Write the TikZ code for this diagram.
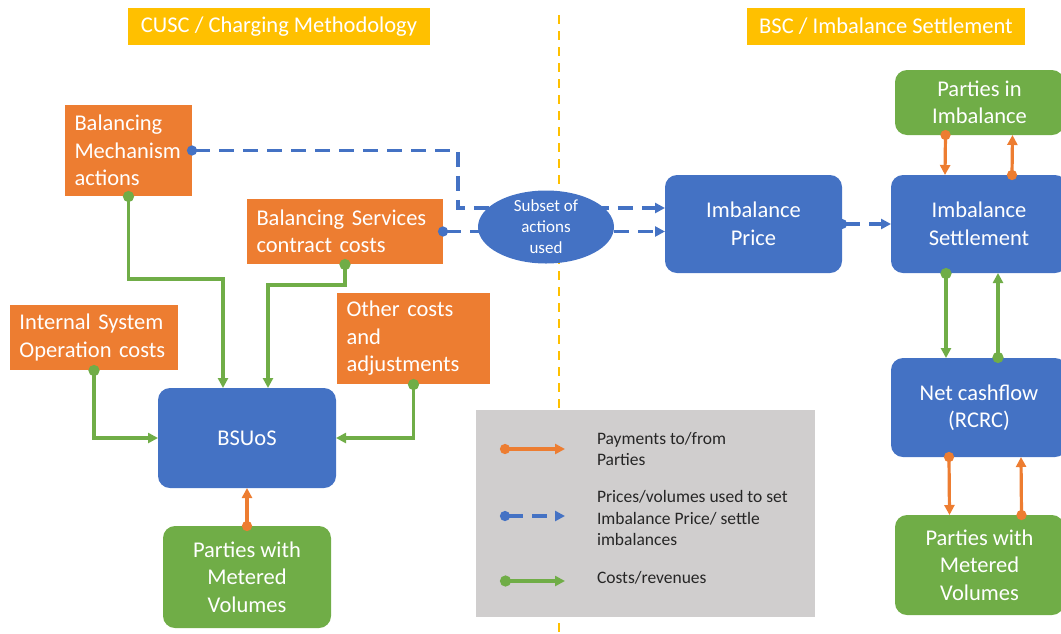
\documentclass[tikz,border=0pt]{standalone}
\definecolor{costorange}{RGB}{237,125,49}
\definecolor{hubblue}{RGB}{68,114,196}
\definecolor{partygreen}{RGB}{112,173,71}
\definecolor{codeyellow}{RGB}{255,192,0}
\definecolor{keygrey}{RGB}{208,206,206}
\usepackage{fontspec}
\setmainfont{Carlito}
\usetikzlibrary{arrows.meta, shapes.geometric}

\begin{document}
\begin{tikzpicture}[
  x=1pt, y=-1pt,
  every node/.style={inner sep=0pt, outer sep=0pt},
  boxtext/.style={font=\fontsize{22.5}{27.5}\selectfont, text=white},
  banner/.style={boxtext, rectangle, fill=codeyellow, minimum height=37pt},
  cost/.style={boxtext, rectangle, fill=costorange, align=left, inner xsep=9.5pt},
  hub/.style={boxtext, rectangle, rounded corners=12pt, fill=hubblue, align=center},
  party/.style={boxtext, rectangle, rounded corners=12pt, fill=partygreen, align=center},
  pay/.style={costorange, line width=3.2pt, shorten <=-5pt,
              {Circle[length=10pt]}-{Triangle[length=10pt, width=10pt]}},
  feed/.style={hubblue, line width=3.2pt, dash pattern=on 15pt off 9pt, shorten <=-5pt,
               {Circle[length=10pt]}-{Triangle[length=10pt, width=10pt]}},
  flow/.style={partygreen, line width=3.2pt, shorten <=-5pt,
               {Circle[length=11pt]}-{Triangle[length=10pt, width=10pt]}},
  keytext/.style={font=\fontsize{17.5}{21.5}\selectfont, text=black!85, align=left, anchor=west}
]
  \useasboundingbox (0,0) rectangle (1061,633);

  % Section headings
  \node[banner, minimum width=302pt] (cusc) at (279,26.5) {CUSC / Charging Methodology};
  \node[banner, minimum width=278pt] (bsc)  at (886,26.5) {BSC / Imbalance Settlement};

  % Cost inputs
  \node[cost, text width=108pt, minimum height=91pt] (bm)    at (128.5,150.5) {Balancing\\Mechanism\\actions};
  \node[cost, text width=177pt, minimum height=65pt] (bs)    at (345,231.5)   {Balancing Services\\contract costs};
  \node[cost, text width=149pt, minimum height=65pt] (isop)  at (94,337.5)    {Internal System\\Operation costs};
  \node[cost, text width=134pt, minimum height=91pt] (other) at (413.5,338.5) {Other costs\\and\\adjustments};

  % Charging side
  \node[hub, minimum width=178pt, minimum height=100pt]  (bsuos)  at (247,438) {BSUoS};
  \node[party, minimum width=168pt, minimum height=102pt] (meterl) at (247,577) {Parties with\\Metered\\Volumes};

  % Settlement side
  \node[hub, minimum width=177pt, minimum height=98pt]   (price)  at (753.5,224) {Imbalance\\Price};
  \node[hub, minimum width=176pt, minimum height=98pt]   (settle) at (979,224)   {Imbalance\\Settlement};
  \node[party, minimum width=169pt, minimum height=65pt]  (imbal)  at (979.5,102.5) {Parties in\\Imbalance};
  \node[hub, minimum width=176pt, minimum height=99pt]   (rcrc)   at (979,407.5) {Net cashflow\\(RCRC)};
  \node[party, minimum width=169pt, minimum height=100pt] (meterr) at (979.5,565) {Parties with\\Metered\\Volumes};

  % Divider between the two codes
  \draw[codeyellow, line width=2pt, dash pattern=on 9pt off 7pt] (559,15) -- (559,633);

  % Prices/volumes feeding the imbalance price
  \draw[feed] (bm.east) -- ++(266,0) |- ([yshift=16pt]price.west);
  \draw[feed] (bs.east) -- (bs.east -| price.west);
  \draw[feed] (price.east) -- (settle.west);

  \node[ellipse, fill=hubblue, minimum width=136pt, minimum height=73pt] (subset) at (546,227) {};
  \node[text=white, align=center, font=\fontsize{17}{21}\selectfont] (subsettext) at (subset.center) {Subset of\\actions\\used};

  % Costs into BSUoS
  \draw[flow] (bm.south) -- ++(0,83) -| ([xshift=-24pt]bsuos.north);
  \draw[flow] (bs.south) -- ++(0,21) -| ([xshift=21pt]bsuos.north);
  \draw[flow] (isop.south) |- (bsuos.west);
  \draw[flow] (other.south) |- (bsuos.east);
  \draw[pay] (meterl.north) -- (bsuos.south);

  % Settlement flows
  \draw[pay] ([xshift=-34pt]imbal.south) -- ([xshift=-34pt]settle.north);
  \draw[pay] ([xshift=33pt]settle.north) -- ([xshift=33pt]imbal.south);
  \draw[flow] ([xshift=-33pt]settle.south) -- ([xshift=-33pt]rcrc.north);
  \draw[flow] ([xshift=19pt]rcrc.north) -- ([xshift=19pt]settle.south);
  \draw[pay] ([xshift=-30pt]rcrc.south) -- ([xshift=-30pt]meterr.north);
  \draw[pay] ([xshift=42pt]meterr.north) -- ([xshift=42pt]rcrc.south);

  % Key
  \node[fill=keygrey, minimum width=339pt, minimum height=207pt] (key) at (645.5,513.5) {};
  \node[keytext] (keypay)  at (597,449) {Payments to/from\\Parties};
  \node[keytext] (keyfeed) at (597,518) {Prices/volumes used to set\\Imbalance Price/ settle\\imbalances};
  \node[keytext] (keyflow) at (597,578) {Costs/revenues};
  \draw[pay]  ([xshift=-92pt]keypay.west) -- ([xshift=-32pt]keypay.west);
  \draw[feed] ([xshift=-92pt,yshift=2pt]keyfeed.west) -- ([xshift=-32pt,yshift=2pt]keyfeed.west);
  \draw[flow] ([xshift=-92pt,yshift=-3pt]keyflow.west) -- ([xshift=-32pt,yshift=-3pt]keyflow.west);
\end{tikzpicture}
\end{document}
